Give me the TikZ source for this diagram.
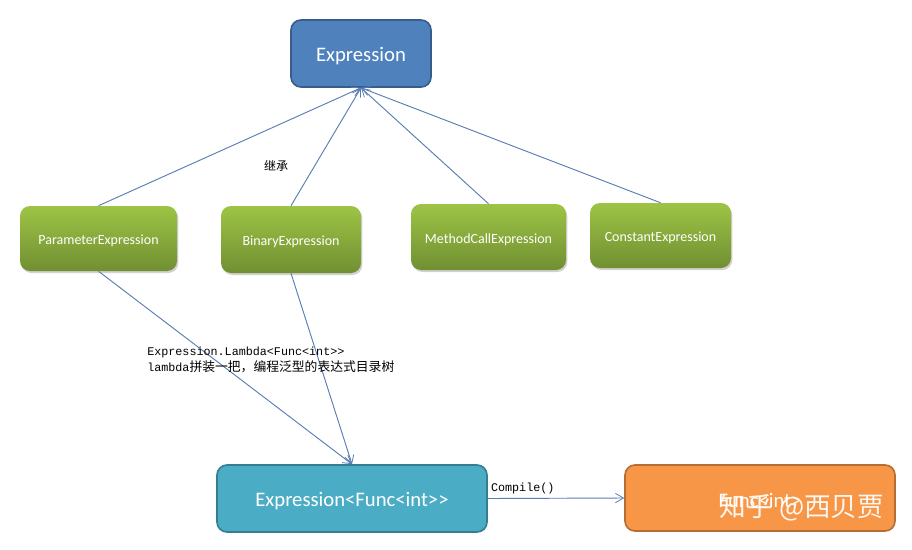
\documentclass[tikz,border=0pt]{standalone}
\usepackage{fontspec}
\setmainfont{Carlito}
\newfontfamily\monof{Liberation Mono}
\newfontfamily\cjk{Noto Sans CJK SC}
\usetikzlibrary{arrows.meta,shadows}
\definecolor{exprfill}{HTML}{4F81BD}
\definecolor{exprdraw}{HTML}{385D8A}
\definecolor{greentop}{HTML}{9DC445}
\definecolor{greenbot}{HTML}{718F32}
\definecolor{tealfill}{HTML}{4BACC6}
\definecolor{tealdraw}{HTML}{357D91}
\definecolor{orangefill}{HTML}{F79646}
\definecolor{orangedraw}{HTML}{B66D31}
\definecolor{linkc}{HTML}{5A7DB5}
\newcommand{\lowr}[1]{\raisebox{-2pt}[\height][\depth]{#1}}
\begin{document}
\begin{tikzpicture}[x=0.75pt,y=-0.75pt,
  box/.style={rounded corners=7.5pt, text=white, inner sep=2pt, align=center},
  bigbox/.style={box, font=\fontsize{15.5}{18}\selectfont, line width=1.2pt},
  greenbox/.style={box, top color=greentop, bottom color=greenbot, draw=none,
     font=\fontsize{10.5}{12}\selectfont,
     drop shadow={shadow xshift=1pt, shadow yshift=-1.5pt, opacity=0.18, fill=black}},
  link/.style={draw=linkc, line width=0.7pt, -{Straight Barb[length=6pt,width=7pt,line width=0.6pt]}},
  lbl/.style={inner sep=0pt, text=black}
]
\useasboundingbox (0,0) rectangle (912,549);
\fill[white] (0,0) rectangle (912,549);

\node[bigbox, fill=exprfill, draw=exprdraw, minimum width=105pt, minimum height=50.25pt] (expr) at (361,53.5) {\lowr{Expression}};

\node[greenbox, minimum width=117.75pt, minimum height=48.75pt] (param) at (98.5,238.5) {\lowr{ParameterExpression}};
\node[greenbox, minimum width=105pt, minimum height=50.25pt] (binary) at (291,239.5) {\lowr{BinaryExpression}};
\node[greenbox, minimum width=116.25pt, minimum height=49.5pt] (method) at (488.5,237) {\lowr{MethodCallExpression}};
\node[greenbox, minimum width=105.75pt, minimum height=48.75pt] (const) at (660.5,235.5) {\lowr{ConstantExpression}};

\node[bigbox, fill=tealfill, draw=tealdraw, minimum width=202.5pt, minimum height=50.25pt] (ef) at (352,498.5) {\lowr{Expression<Func<int>{}>}};
\node[bigbox, fill=orangefill, draw=orangedraw, minimum width=202.5pt, minimum height=49.5pt] (fi) at (760,498) {\lowr{Func<int>}};

\draw[link] (param.north) -- (expr.south);
\draw[link] (binary.north) -- (expr.south);
\draw[link] (method.north) -- (expr.south);
\draw[link] (const.north) -- (expr.south);

\draw[link] (param.south) -- (ef.north);
\draw[link] (binary.south) -- (ef.north);
\draw[link] (ef.east) -- (fi.west);

\node[lbl, font=\cjk\fontsize{9}{11}\selectfont] (inherit) at (276,166) {继承};
\node[lbl, anchor=north west, align=left, font=\fontsize{8.8}{12}\selectfont] (lambda) at (147,347)
  {{\monof Expression.Lambda<Func<int>{}>}\\{\monof lambda}{\cjk\fontsize{9.6}{12}\selectfont 拼装一把，编程泛型的表达式目录树}};
\node[lbl, anchor=south west, font=\monof\fontsize{8.8}{10}\selectfont] (compile) at ([xshift=2.25pt,yshift=3pt]ef.east) {Compile()};

\node[lbl, text=white, opacity=0.92, font=\cjk\fontsize{20}{24}\selectfont] (wm) at (802,508) {知乎 @西贝贾};
\end{tikzpicture}
\end{document}
